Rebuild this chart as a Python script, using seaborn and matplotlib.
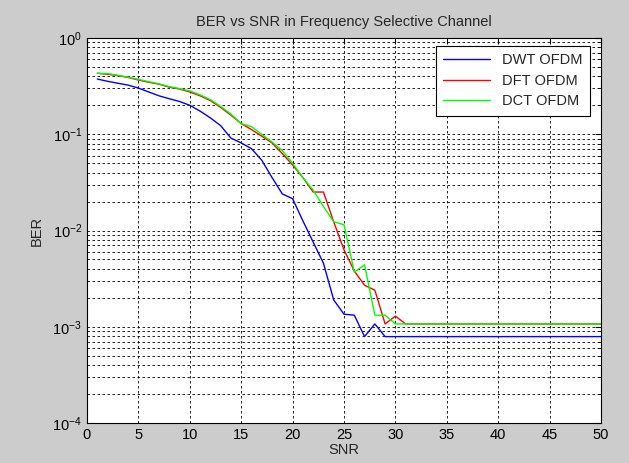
import numpy as np
import pandas as pd
import matplotlib
matplotlib.use("Agg")
import matplotlib.pyplot as plt
import matplotlib.ticker as mticker
import seaborn as sns

snr = list(range(1, 51))

dwt_head = [0.375, 0.355, 0.339, 0.324, 0.302, 0.275, 0.251, 0.234, 0.219, 0.200,
            0.174, 0.148, 0.123, 0.0912, 0.0813, 0.0708, 0.0537, 0.0355, 0.024, 0.0214,
            0.0126, 0.00759, 0.00457, 0.0019, 0.00135, 0.00132, 0.00079, 0.00107, 0.00079]
dft_head = [0.43, 0.42, 0.407, 0.389, 0.366, 0.347, 0.331, 0.309, 0.295, 0.275,
            0.251, 0.224, 0.19, 0.158, 0.129, 0.112, 0.0955, 0.0813, 0.063, 0.0479,
            0.0355, 0.0251, 0.0251, 0.0123, 0.0063, 0.0038, 0.0027, 0.0024, 0.00107, 0.00129]
dct_head = [0.43, 0.427, 0.41, 0.392, 0.372, 0.352, 0.334, 0.313, 0.298, 0.282,
            0.257, 0.229, 0.195, 0.162, 0.129, 0.12, 0.1, 0.083, 0.0676, 0.05,
            0.0355, 0.0263, 0.0178, 0.0123, 0.0115, 0.0037, 0.0044, 0.00132, 0.00132, 0.00107]

dwt_ber = dwt_head + [0.00079] * (50 - len(dwt_head))
dft_ber = dft_head + [0.00107] * (50 - len(dft_head))
dct_ber = dct_head + [0.00107] * (50 - len(dct_head))

labels = ["DWT OFDM", "DFT OFDM", "DCT OFDM"]
colors = ["#0000ff", "#ff0000", "#00ff00"]

df = pd.DataFrame({
    "SNR": snr * 3,
    "BER": dwt_ber + dft_ber + dct_ber,
    "Scheme": [labels[0]] * 50 + [labels[1]] * 50 + [labels[2]] * 50,
})

sns.set_style("white")
plt.rcParams["font.family"] = ["Liberation Sans", "DejaVu Sans"]
plt.rcParams["mathtext.fontset"] = "custom"
plt.rcParams["mathtext.rm"] = "Liberation Sans"
plt.rcParams["mathtext.it"] = "Liberation Sans"

fig = plt.figure(figsize=(6.29, 4.63), dpi=100, facecolor="#cccccc")
ax = fig.add_axes([0.1383, 0.0864, 0.8172, 0.8315])
ax.set_facecolor("white")

sns.lineplot(data=df, x="SNR", y="BER", hue="Scheme", hue_order=labels,
             palette=colors, linewidth=1.0, ax=ax)

ax.set_yscale("log")
ax.set_xlim(0, 50)
ax.set_ylim(1e-4, 1)
ax.set_xticks(np.arange(0, 51, 5))
ax.yaxis.set_major_locator(mticker.LogLocator(base=10, numticks=10))
ax.yaxis.set_minor_locator(mticker.LogLocator(base=10, subs=np.arange(2, 10), numticks=20))
ax.yaxis.set_minor_formatter(mticker.NullFormatter())

# matlab-ish dashed grid
dash = (0, (3, 3))
ax.grid(True, which="major", axis="both", color="black", linestyle=dash, linewidth=0.6)
ax.grid(True, which="minor", axis="y", color="black", linestyle=dash, linewidth=0.6)

ax.tick_params(axis="both", which="both", direction="in", top=True, right=True,
               labelsize=10.5, colors="black")
ax.tick_params(axis="both", which="major", length=4)
ax.tick_params(axis="y", which="minor", length=2)
for s in ax.spines.values():
    s.set_color("black")
    s.set_linewidth(0.8)

ax.set_title("BER vs SNR in Frequency Selective Channel", fontsize=10.5, pad=9)
ax.set_xlabel("SNR", fontsize=10.5, labelpad=1)
ax.set_ylabel("BER", fontsize=10.5, labelpad=6)

leg = ax.legend(loc="upper right", fontsize=10.5, frameon=True, fancybox=False,
                edgecolor="black", framealpha=1, borderpad=0.5, handlelength=3.2,
                labelspacing=0.45, bbox_to_anchor=(0.992, 0.998))
leg.get_frame().set_linewidth(0.8)

fig.savefig("out.png", dpi=100, facecolor=fig.get_facecolor())
